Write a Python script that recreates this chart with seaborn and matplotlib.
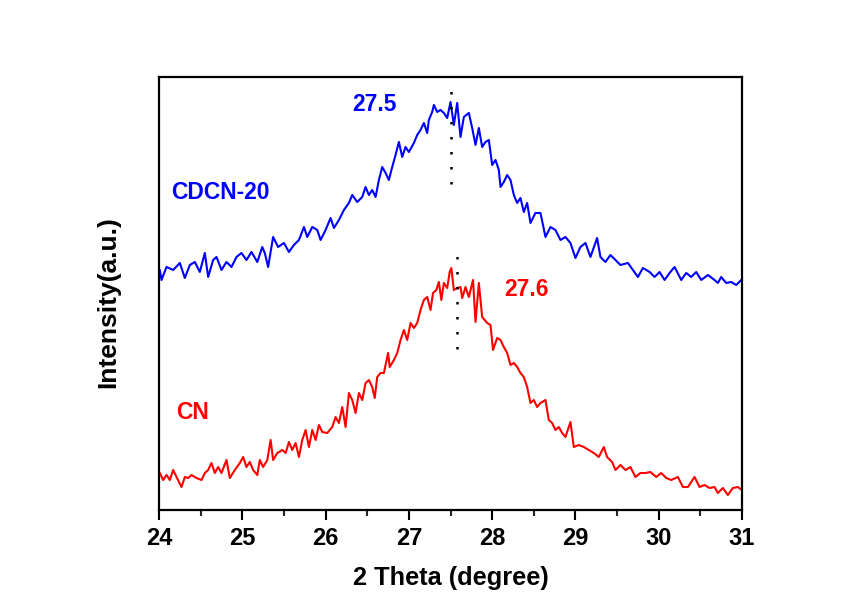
import numpy as np
import pandas as pd
import matplotlib
matplotlib.use("Agg")
import matplotlib.pyplot as plt
import seaborn as sns
from matplotlib.ticker import MultipleLocator

# -----------------------------------------------------------------------------
# Data (2 theta in degrees, intensity in arb. units)
# -----------------------------------------------------------------------------
cdcn_theta = [24.01, 24.03, 24.09, 24.17, 24.25, 24.31, 24.37, 24.43, 24.49, 24.55,
              24.59, 24.65, 24.69, 24.75, 24.81, 24.87, 24.93, 24.99, 25.05, 25.11,
              25.18, 25.24, 25.27, 25.31, 25.37, 25.43, 25.50, 25.56, 25.62, 25.68,
              25.74, 25.78, 25.84, 25.90, 25.94, 26.00, 26.06, 26.10, 26.16, 26.22,
              26.28, 26.32, 26.38, 26.44, 26.48, 26.52, 26.56, 26.60, 26.64, 26.68,
              26.72, 26.76, 26.80, 26.84, 26.88, 26.92, 26.96, 27.00, 27.06, 27.10,
              27.14, 27.18, 27.22, 27.24, 27.28, 27.30, 27.34, 27.38, 27.42, 27.46,
              27.50, 27.54, 27.58, 27.62, 27.66, 27.72, 27.76, 27.80, 27.84, 27.88,
              27.92, 27.96, 28.00, 28.04, 28.08, 28.10, 28.14, 28.18, 28.22, 28.26,
              28.30, 28.34, 28.38, 28.42, 28.46, 28.52, 28.58, 28.64, 28.70, 28.76,
              28.82, 28.88, 28.94, 29.00, 29.06, 29.12, 29.18, 29.26, 29.30, 29.36,
              29.42, 29.48, 29.54, 29.63, 29.69, 29.75, 29.81, 29.89, 29.95, 30.01,
              30.07, 30.13, 30.19, 30.27, 30.33, 30.39, 30.45, 30.51, 30.59, 30.67,
              30.71, 30.75, 30.81, 30.87, 30.93, 30.99, 31.00]
cdcn_int = [240, 230, 243, 240, 247, 232, 245, 248, 238, 257,
            233, 250, 253, 240, 248, 243, 253, 257, 250, 258,
            248, 263, 257, 243, 273, 263, 267, 258, 265, 270,
            283, 273, 283, 280, 270, 280, 292, 282, 290, 300,
            307, 315, 308, 313, 323, 315, 320, 313, 330, 343,
            337, 330, 343, 355, 368, 353, 363, 358, 367, 375,
            380, 387, 377, 390, 398, 405, 398, 400, 397, 392,
            408, 385, 407, 373, 393, 397, 382, 365, 382, 363,
            368, 370, 345, 350, 340, 323, 328, 335, 330, 315,
            307, 312, 298, 307, 287, 297, 297, 273, 283, 280,
            270, 273, 267, 252, 263, 267, 253, 272, 253, 248,
            255, 250, 245, 247, 240, 233, 242, 238, 233, 238,
            230, 237, 243, 230, 237, 233, 238, 230, 235, 230,
            227, 233, 227, 228, 225, 230, 228]

cn_theta = [24.01, 24.05, 24.09, 24.13, 24.17, 24.21, 24.27, 24.31, 24.35, 24.39,
            24.45, 24.51, 24.55, 24.59, 24.63, 24.67, 24.71, 24.75, 24.81, 24.85,
            24.91, 24.97, 25.01, 25.05, 25.09, 25.13, 25.18, 25.21, 25.25, 25.30,
            25.34, 25.37, 25.42, 25.48, 25.52, 25.56, 25.60, 25.64, 25.68, 25.72,
            25.76, 25.80, 25.84, 25.88, 25.92, 25.96, 26.02, 26.08, 26.12, 26.16,
            26.20, 26.24, 26.28, 26.32, 26.36, 26.40, 26.44, 26.48, 26.52, 26.56,
            26.59, 26.62, 26.66, 26.70, 26.75, 26.77, 26.82, 26.86, 26.90, 26.94,
            26.98, 27.02, 27.06, 27.10, 27.14, 27.18, 27.22, 27.26, 27.29, 27.33,
            27.36, 27.39, 27.42, 27.46, 27.49, 27.51, 27.54, 27.58, 27.62, 27.64,
            27.68, 27.72, 27.77, 27.80, 27.84, 27.88, 27.94, 27.98, 28.01, 28.06,
            28.10, 28.14, 28.18, 28.22, 28.26, 28.30, 28.34, 28.38, 28.42, 28.46,
            28.50, 28.54, 28.58, 28.64, 28.68, 28.72, 28.76, 28.80, 28.84, 28.88,
            28.94, 28.98, 29.04, 29.10, 29.16, 29.22, 29.28, 29.34, 29.38, 29.44,
            29.48, 29.54, 29.60, 29.66, 29.72, 29.78, 29.84, 29.90, 29.97, 30.03,
            30.09, 30.15, 30.23, 30.29, 30.35, 30.43, 30.49, 30.55, 30.61, 30.67,
            30.71, 30.77, 30.83, 30.89, 30.95, 31.00]
cn_int = [37, 30, 35, 30, 40, 33, 23, 33, 32, 35,
          32, 30, 37, 40, 47, 37, 43, 37, 50, 32,
          40, 47, 53, 43, 48, 40, 35, 50, 43, 50,
          70, 50, 57, 60, 57, 68, 60, 67, 53, 70,
          80, 63, 80, 70, 85, 78, 77, 83, 93, 87,
          103, 83, 117, 110, 97, 117, 110, 127, 130, 123,
          112, 133, 137, 137, 157, 143, 150, 157, 170, 180,
          170, 187, 182, 187, 200, 210, 213, 200, 217, 220,
          228, 210, 227, 222, 238, 242, 220, 222, 223, 212,
          223, 213, 230, 188, 227, 193, 187, 185, 160, 172,
          170, 163, 157, 145, 147, 143, 137, 133, 123, 107,
          110, 103, 107, 110, 90, 87, 80, 83, 77, 73,
          88, 63, 65, 63, 60, 57, 53, 63, 53, 48,
          40, 45, 40, 43, 33, 37, 37, 38, 33, 37,
          32, 30, 33, 23, 23, 33, 23, 25, 22, 23,
          17, 22, 15, 22, 23, 20]

peak_labels = ["27.5", "27.6"]
peak_pos = [27.50, 27.58]
sample_names = ["CDCN-20", "CN"]
sample_colors = ["#0000FF", "#FF0000"]

df = pd.concat([
    pd.DataFrame({"theta": cdcn_theta, "intensity": cdcn_int, "sample": "CDCN-20"}),
    pd.DataFrame({"theta": cn_theta, "intensity": cn_int, "sample": "CN"}),
])

# -----------------------------------------------------------------------------
# Style
# -----------------------------------------------------------------------------
sns.set_theme(style="ticks")
plt.rcParams["font.family"] = ["Liberation Sans", "DejaVu Sans"]
plt.rcParams["font.weight"] = "bold"
plt.rcParams["axes.labelweight"] = "bold"

fig = plt.figure(figsize=(8.49, 6.06), dpi=100)
ax = fig.add_axes([0.1873, 0.1584, 0.6867, 0.7146])

sns.lineplot(data=df, x="theta", y="intensity", hue="sample",
             palette=dict(zip(sample_names, sample_colors)),
             estimator=None, sort=False, linewidth=1.5, legend=False, ax=ax)

# dotted peak markers
ax.vlines(peak_pos[0], 326, 425, colors="black", linestyles=(0, (1, 5)), linewidth=1.8)
ax.vlines(peak_pos[1], 161, 261, colors="black", linestyles=(0, (1, 5)), linewidth=1.8)

# annotations
ax.text(26.59, 405, peak_labels[0], color=sample_colors[0], fontsize=16.5,
        fontweight="bold", ha="center", va="center")
ax.text(28.15, 220, peak_labels[1], color=sample_colors[1], fontsize=16.5,
        fontweight="bold", ha="left", va="center")
ax.text(24.14, 317, sample_names[0], color=sample_colors[0], fontsize=16.5,
        fontweight="bold", ha="left", va="center")
ax.text(24.20, 97, sample_names[1], color=sample_colors[1], fontsize=16.5,
        fontweight="bold", ha="left", va="center")

ax.set_xlim(24, 31)
ax.set_ylim(0, 433)
ax.xaxis.set_major_locator(MultipleLocator(1))
ax.xaxis.set_minor_locator(MultipleLocator(0.5))
ax.set_yticks([])

ax.tick_params(axis="x", which="major", direction="out", length=7, width=1.5,
               labelsize=17, pad=5, colors="black")
ax.tick_params(axis="x", which="minor", direction="out", length=4, width=1.5)
for lbl in ax.get_xticklabels():
    lbl.set_fontweight("bold")

for side in ["top", "bottom", "left", "right"]:
    ax.spines[side].set_visible(True)
    ax.spines[side].set_linewidth(1.6)
    ax.spines[side].set_color("black")

ax.set_xlabel("2 Theta (degree)", fontsize=18.3, fontweight="bold", labelpad=12,
              color="black")
ax.set_ylabel("Intensity(a.u.)", fontsize=19, fontweight="bold", color="black")
ax.yaxis.set_label_coords(-0.067, 0.48)

fig.savefig("out.png", dpi=100, facecolor="white")
